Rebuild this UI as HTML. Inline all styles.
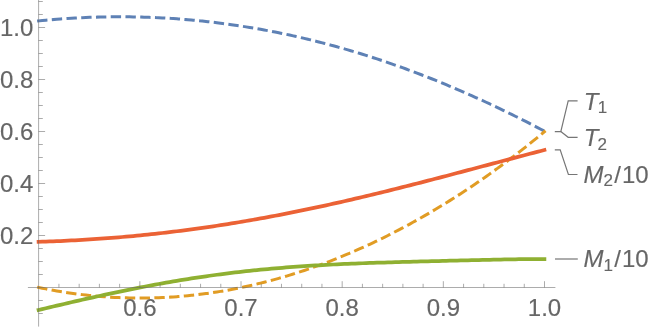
<!DOCTYPE html>
<html><head><meta charset="utf-8"><title>plot</title>
<style>
html,body{margin:0;padding:0;background:#fff;}
body{width:664px;height:330px;overflow:hidden;}
svg{display:block;}
text{font-family:"Liberation Sans",sans-serif;font-size:24px;fill:#666666;stroke:#666666;stroke-width:0.15px;}
.it{font-style:italic;}
.sub{font-size:17px;}
</style></head>
<body>
<svg width="664" height="330" viewBox="0 0 664 330">
<defs><filter id="gs" filterUnits="userSpaceOnUse" x="0" y="0" width="664" height="330"><feOffset dx="0" dy="0"/></filter></defs>
<rect width="664" height="330" fill="#ffffff"/>
<g fill="none" stroke-linecap="square" stroke-linejoin="round">
<path d="M38.60,20.90 L42.24,20.54 L45.88,20.20 L49.52,19.87 L53.16,19.56 L56.79,19.26 L60.43,18.98 L64.07,18.72 L67.71,18.48 L71.35,18.25 L74.99,18.04 L78.63,17.84 L82.27,17.66 L85.91,17.50 L89.54,17.35 L93.18,17.22 L96.82,17.11 L100.46,17.02 L104.10,16.94 L107.74,16.87 L111.38,16.83 L115.02,16.80 L118.65,16.78 L122.29,16.79 L125.93,16.81 L129.57,16.84 L133.21,16.90 L136.85,16.97 L140.49,17.05 L144.13,17.16 L147.77,17.28 L151.40,17.41 L155.04,17.57 L158.68,17.74 L162.32,17.92 L165.96,18.13 L169.60,18.35 L173.24,18.58 L176.88,18.84 L180.52,19.11 L184.15,19.40 L187.79,19.70 L191.43,20.02 L195.07,20.36 L198.71,20.71 L202.35,21.09 L205.99,21.47 L209.63,21.88 L213.26,22.30 L216.90,22.74 L220.54,23.20 L224.18,23.67 L227.82,24.16 L231.46,24.67 L235.10,25.19 L238.74,25.73 L242.38,26.29 L246.01,26.87 L249.65,27.46 L253.29,28.07 L256.93,28.69 L260.57,29.34 L264.21,30.00 L267.85,30.67 L271.49,31.37 L275.13,32.08 L278.76,32.81 L282.40,33.55 L286.04,34.31 L289.68,35.09 L293.32,35.89 L296.96,36.71 L300.60,37.54 L304.24,38.38 L307.87,39.25 L311.51,40.13 L315.15,41.03 L318.79,41.95 L322.43,42.88 L326.07,43.83 L329.71,44.80 L333.35,45.78 L336.99,46.78 L340.62,47.80 L344.26,48.84 L347.90,49.89 L351.54,50.96 L355.18,52.05 L358.82,53.15 L362.46,54.27 L366.10,55.41 L369.74,56.56 L373.37,57.74 L377.01,58.92 L380.65,60.13 L384.29,61.35 L387.93,62.59 L391.57,63.85 L395.21,65.12 L398.85,66.41 L402.48,67.71 L406.12,69.03 L409.76,70.37 L413.40,71.73 L417.04,73.10 L420.68,74.49 L424.32,75.89 L427.96,77.32 L431.60,78.75 L435.23,80.21 L438.87,81.68 L442.51,83.17 L446.15,84.67 L449.79,86.19 L453.43,87.72 L457.07,89.27 L460.71,90.84 L464.35,92.42 L467.98,94.02 L471.62,95.64 L475.26,97.27 L478.90,98.91 L482.54,100.57 L486.18,102.25 L489.82,103.94 L493.46,105.65 L497.09,107.38 L500.73,109.11 L504.37,110.87 L508.01,112.64 L511.65,114.42 L515.29,116.22 L518.93,118.03 L522.57,119.86 L526.21,121.70 L529.84,123.56 L533.48,125.43 L537.12,127.31 L540.76,129.21 L544.40,131.13" stroke="#5e81b5" stroke-width="3" stroke-dasharray="7.375 7.375"/>
<path d="M38.60,287.41 L42.24,288.17 L45.88,288.89 L49.52,289.59 L53.16,290.26 L56.79,290.91 L60.43,291.52 L64.07,292.11 L67.71,292.67 L71.35,293.20 L74.99,293.70 L78.63,294.18 L82.27,294.62 L85.91,295.04 L89.54,295.44 L93.18,295.80 L96.82,296.14 L100.46,296.45 L104.10,296.73 L107.74,296.99 L111.38,297.21 L115.02,297.41 L118.65,297.59 L122.29,297.73 L125.93,297.85 L129.57,297.94 L133.21,298.00 L136.85,298.04 L140.49,298.05 L144.13,298.03 L147.77,297.99 L151.40,297.91 L155.04,297.81 L158.68,297.69 L162.32,297.53 L165.96,297.35 L169.60,297.14 L173.24,296.91 L176.88,296.64 L180.52,296.35 L184.15,296.04 L187.79,295.69 L191.43,295.32 L195.07,294.93 L198.71,294.50 L202.35,294.05 L205.99,293.57 L209.63,293.06 L213.26,292.53 L216.90,291.97 L220.54,291.38 L224.18,290.77 L227.82,290.13 L231.46,289.46 L235.10,288.76 L238.74,288.04 L242.38,287.29 L246.01,286.52 L249.65,285.72 L253.29,284.89 L256.93,284.03 L260.57,283.15 L264.21,282.24 L267.85,281.30 L271.49,280.34 L275.13,279.35 L278.76,278.33 L282.40,277.29 L286.04,276.22 L289.68,275.12 L293.32,274.00 L296.96,272.85 L300.60,271.67 L304.24,270.47 L307.87,269.24 L311.51,267.98 L315.15,266.70 L318.79,265.39 L322.43,264.05 L326.07,262.69 L329.71,261.30 L333.35,259.89 L336.99,258.45 L340.62,256.98 L344.26,255.48 L347.90,253.96 L351.54,252.41 L355.18,250.84 L358.82,249.24 L362.46,247.61 L366.10,245.96 L369.74,244.28 L373.37,242.57 L377.01,240.84 L380.65,239.08 L384.29,237.30 L387.93,235.49 L391.57,233.65 L395.21,231.78 L398.85,229.89 L402.48,227.98 L406.12,226.03 L409.76,224.06 L413.40,222.06 L417.04,220.04 L420.68,217.99 L424.32,215.91 L427.96,213.81 L431.60,211.68 L435.23,209.52 L438.87,207.33 L442.51,205.12 L446.15,202.88 L449.79,200.62 L453.43,198.32 L457.07,196.00 L460.71,193.65 L464.35,191.28 L467.98,188.87 L471.62,186.44 L475.26,183.98 L478.90,181.50 L482.54,178.98 L486.18,176.43 L489.82,173.86 L493.46,171.26 L497.09,168.63 L500.73,165.97 L504.37,163.28 L508.01,160.56 L511.65,157.81 L515.29,155.04 L518.93,152.23 L522.57,149.39 L526.21,146.52 L529.84,143.62 L533.48,140.69 L537.12,137.73 L540.76,134.73 L544.40,131.70" stroke="#e19c24" stroke-width="3" stroke-dasharray="7.375 7.375"/>
<path d="M38.60,309.99 L42.24,309.12 L45.88,308.25 L49.52,307.38 L53.16,306.52 L56.79,305.66 L60.43,304.81 L64.07,303.96 L67.71,303.11 L71.35,302.27 L74.99,301.43 L78.63,300.60 L82.27,299.77 L85.91,298.95 L89.54,298.13 L93.18,297.32 L96.82,296.52 L100.46,295.72 L104.10,294.93 L107.74,294.14 L111.38,293.37 L115.02,292.59 L118.65,291.83 L122.29,291.08 L125.93,290.33 L129.57,289.59 L133.21,288.86 L136.85,288.14 L140.49,287.42 L144.13,286.72 L147.77,286.02 L151.40,285.34 L155.04,284.66 L158.68,283.99 L162.32,283.34 L165.96,282.69 L169.60,282.05 L173.24,281.43 L176.88,280.81 L180.52,280.20 L184.15,279.61 L187.79,279.03 L191.43,278.45 L195.07,277.89 L198.71,277.34 L202.35,276.80 L205.99,276.27 L209.63,275.76 L213.26,275.25 L216.90,274.76 L220.54,274.27 L224.18,273.80 L227.82,273.34 L231.46,272.89 L235.10,272.46 L238.74,272.03 L242.38,271.61 L246.01,271.21 L249.65,270.82 L253.29,270.44 L256.93,270.06 L260.57,269.70 L264.21,269.35 L267.85,269.01 L271.49,268.68 L275.13,268.37 L278.76,268.06 L282.40,267.76 L286.04,267.47 L289.68,267.19 L293.32,266.92 L296.96,266.66 L300.60,266.40 L304.24,266.16 L307.87,265.93 L311.51,265.70 L315.15,265.48 L318.79,265.27 L322.43,265.07 L326.07,264.87 L329.71,264.68 L333.35,264.50 L336.99,264.32 L340.62,264.15 L344.26,263.99 L347.90,263.83 L351.54,263.68 L355.18,263.53 L358.82,263.39 L362.46,263.25 L366.10,263.12 L369.74,262.99 L373.37,262.87 L377.01,262.74 L380.65,262.63 L384.29,262.51 L387.93,262.40 L391.57,262.29 L395.21,262.18 L398.85,262.08 L402.48,261.97 L406.12,261.87 L409.76,261.77 L413.40,261.67 L417.04,261.58 L420.68,261.48 L424.32,261.39 L427.96,261.29 L431.60,261.20 L435.23,261.10 L438.87,261.01 L442.51,260.92 L446.15,260.83 L449.79,260.73 L453.43,260.64 L457.07,260.55 L460.71,260.46 L464.35,260.37 L467.98,260.28 L471.62,260.19 L475.26,260.11 L478.90,260.02 L482.54,259.94 L486.18,259.85 L489.82,259.77 L493.46,259.69 L497.09,259.62 L500.73,259.54 L504.37,259.47 L508.01,259.41 L511.65,259.34 L515.29,259.29 L518.93,259.24 L522.57,259.19 L526.21,259.15 L529.84,259.13 L533.48,259.10 L537.12,259.09 L540.76,259.09 L544.40,259.10" stroke="#8fb032" stroke-width="3.75"/>
<path d="M38.60,241.84 L42.24,241.73 L45.88,241.60 L49.52,241.47 L53.16,241.33 L56.79,241.18 L60.43,241.02 L64.07,240.85 L67.71,240.68 L71.35,240.49 L74.99,240.30 L78.63,240.10 L82.27,239.89 L85.91,239.67 L89.54,239.45 L93.18,239.21 L96.82,238.97 L100.46,238.71 L104.10,238.45 L107.74,238.18 L111.38,237.90 L115.02,237.61 L118.65,237.31 L122.29,237.00 L125.93,236.68 L129.57,236.35 L133.21,236.02 L136.85,235.67 L140.49,235.32 L144.13,234.95 L147.77,234.58 L151.40,234.20 L155.04,233.81 L158.68,233.41 L162.32,233.00 L165.96,232.58 L169.60,232.15 L173.24,231.71 L176.88,231.26 L180.52,230.80 L184.15,230.34 L187.79,229.86 L191.43,229.38 L195.07,228.88 L198.71,228.38 L202.35,227.87 L205.99,227.35 L209.63,226.82 L213.26,226.28 L216.90,225.73 L220.54,225.17 L224.18,224.60 L227.82,224.03 L231.46,223.44 L235.10,222.85 L238.74,222.25 L242.38,221.64 L246.01,221.02 L249.65,220.39 L253.29,219.75 L256.93,219.10 L260.57,218.45 L264.21,217.79 L267.85,217.12 L271.49,216.44 L275.13,215.75 L278.76,215.05 L282.40,214.35 L286.04,213.64 L289.68,212.92 L293.32,212.19 L296.96,211.45 L300.60,210.71 L304.24,209.96 L307.87,209.20 L311.51,208.43 L315.15,207.66 L318.79,206.88 L322.43,206.09 L326.07,205.30 L329.71,204.50 L333.35,203.69 L336.99,202.87 L340.62,202.05 L344.26,201.22 L347.90,200.39 L351.54,199.55 L355.18,198.70 L358.82,197.85 L362.46,196.99 L366.10,196.13 L369.74,195.26 L373.37,194.38 L377.01,193.50 L380.65,192.61 L384.29,191.72 L387.93,190.83 L391.57,189.92 L395.21,189.02 L398.85,188.11 L402.48,187.19 L406.12,186.28 L409.76,185.35 L413.40,184.43 L417.04,183.50 L420.68,182.56 L424.32,181.62 L427.96,180.68 L431.60,179.74 L435.23,178.79 L438.87,177.85 L442.51,176.89 L446.15,175.94 L449.79,174.98 L453.43,174.02 L457.07,173.06 L460.71,172.10 L464.35,171.14 L467.98,170.17 L471.62,169.21 L475.26,168.24 L478.90,167.28 L482.54,166.31 L486.18,165.34 L489.82,164.37 L493.46,163.41 L497.09,162.44 L500.73,161.47 L504.37,160.51 L508.01,159.54 L511.65,158.58 L515.29,157.62 L518.93,156.66 L522.57,155.70 L526.21,154.74 L529.84,153.79 L533.48,152.84 L537.12,151.89 L540.76,150.94 L544.40,150.00" stroke="#eb6235" stroke-width="3.75"/>
</g>
<path d="M27.9,287.50 H555.4 M38.60,0 V326.6 M58.93,287.50 v-3.7 M79.16,287.50 v-3.7 M99.40,287.50 v-3.7 M119.63,287.50 v-3.7 M139.86,287.50 v-6.3 M160.09,287.50 v-3.7 M180.32,287.50 v-3.7 M200.56,287.50 v-3.7 M220.79,287.50 v-3.7 M241.02,287.50 v-6.3 M261.25,287.50 v-3.7 M281.48,287.50 v-3.7 M301.72,287.50 v-3.7 M321.95,287.50 v-3.7 M342.18,287.50 v-6.3 M362.41,287.50 v-3.7 M382.64,287.50 v-3.7 M402.88,287.50 v-3.7 M423.11,287.50 v-3.7 M443.34,287.50 v-6.3 M463.57,287.50 v-3.7 M483.80,287.50 v-3.7 M504.04,287.50 v-3.7 M524.27,287.50 v-3.7 M544.50,287.50 v-6.3 M38.60,313.50 h4.2 M38.60,300.50 h4.2 M38.60,274.50 h4.2 M38.60,261.50 h4.2 M38.60,248.50 h4.2 M38.60,235.50 h6.5 M38.60,222.50 h4.2 M38.60,209.50 h4.2 M38.60,196.50 h4.2 M38.60,183.50 h6.5 M38.60,170.50 h4.2 M38.60,157.50 h4.2 M38.60,144.50 h4.2 M38.60,131.50 h6.5 M38.60,118.50 h4.2 M38.60,105.50 h4.2 M38.60,92.50 h4.2 M38.60,79.50 h6.5 M38.60,66.50 h4.2 M38.60,53.50 h4.2 M38.60,40.50 h4.2 M38.60,27.50 h6.5 M38.60,14.50 h4.2 M38.60,1.50 h4.2" fill="none" stroke="#666666" stroke-width="0.55"/>
<g fill="none" stroke="#767676" stroke-width="1.2">
<path d="M554.8,131.6 H560.8 L568.2,100.9 H577.6"/>
<path d="M560.8,131.6 L568.2,137.3 H577.6"/>
<path d="M554.8,149.8 H560.2 L568.4,174.5 H577.5"/>
<path d="M555,259 H577.8"/>
</g>
<g filter="url(#gs)">
<text x="139.86" y="315.8" text-anchor="middle">0.6</text>
<text x="241.02" y="315.8" text-anchor="middle">0.7</text>
<text x="342.18" y="315.8" text-anchor="middle">0.8</text>
<text x="443.34" y="315.8" text-anchor="middle">0.9</text>
<text x="544.50" y="315.8" text-anchor="middle">1.0</text>
<text x="33.3" y="243.50" text-anchor="end">0.2</text>
<text x="33.3" y="191.50" text-anchor="end">0.4</text>
<text x="33.3" y="139.50" text-anchor="end">0.6</text>
<text x="33.3" y="87.50" text-anchor="end">0.8</text>
<text x="33.3" y="35.50" text-anchor="end">1.0</text>
<text x="583.85" y="109.9"><tspan class="it">T</tspan><tspan class="sub" dx="-0.8" dy="3.3">1</tspan></text>
<text x="583.85" y="145.7"><tspan class="it">T</tspan><tspan class="sub" dx="-1.1" dy="3.9">2</tspan></text>
<text x="583.56" y="182.8"><tspan class="it">M</tspan><tspan class="sub" dy="3.6">2</tspan><tspan dx="1.3" dy="-3.6">/</tspan><tspan dx="1">10</tspan></text>
<text x="583.56" y="267.3"><tspan class="it">M</tspan><tspan class="sub" dy="3.6">1</tspan><tspan dx="1.3" dy="-3.6">/</tspan><tspan dx="1">10</tspan></text>
</g>
</svg>
</body></html>
